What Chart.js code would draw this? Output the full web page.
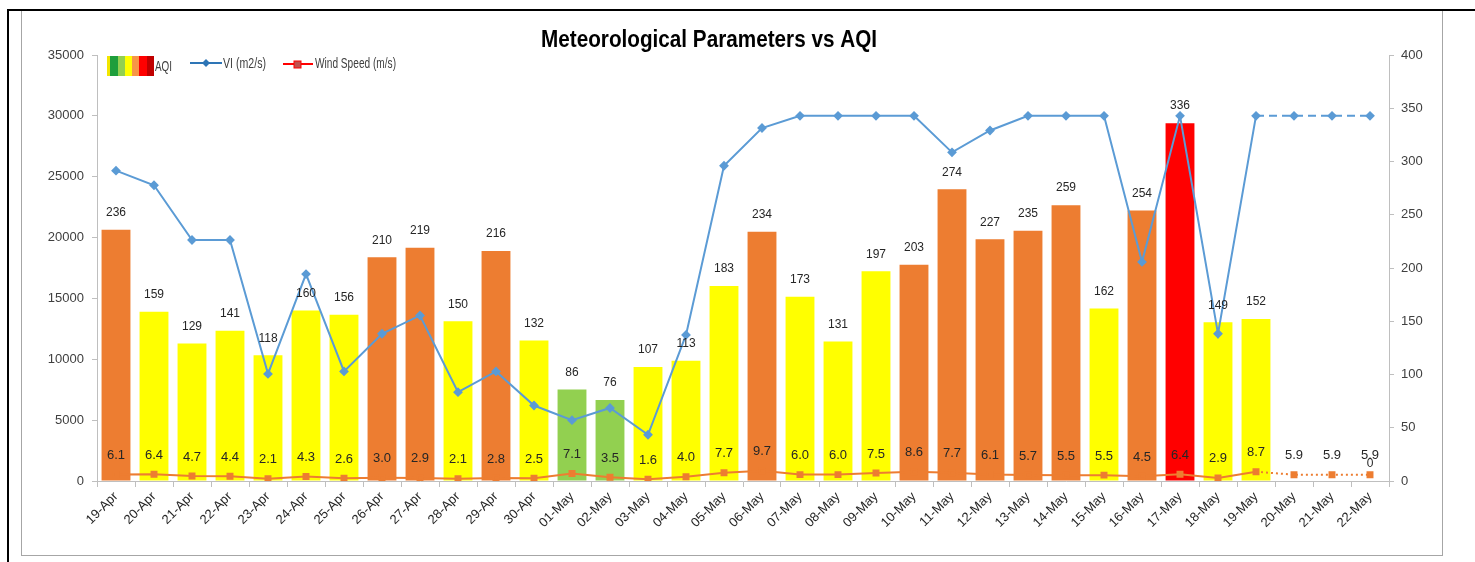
<!DOCTYPE html>
<html>
<head>
<meta charset="utf-8">
<script src="https://cdn.jsdelivr.net/npm/chart.js@4.4.0/dist/chart.umd.min.js"></script>
<style>
body{margin:0;background:#fff;width:1475px;height:562px;overflow:hidden;position:relative;}
#lineTop{position:absolute;left:7px;top:9px;width:1468px;height:2px;background:#000;}
#lineLeft{position:absolute;left:7px;top:9px;width:2px;height:553px;background:#000;}
#box{position:absolute;left:21px;top:10px;width:1420px;height:544px;border:1px solid #a6a6a6;}
</style>
</head>
<body>
<div id="box"><canvas id="myChart"></canvas></div>
<div id="lineTop"></div>
<div id="lineLeft"></div>
<script>
var labels = ['19-Apr','20-Apr','21-Apr','22-Apr','23-Apr','24-Apr','25-Apr','26-Apr','27-Apr','28-Apr','29-Apr','30-Apr',
    '01-May','02-May','03-May','04-May','05-May','06-May','07-May','08-May','09-May','10-May',
    '11-May','12-May','13-May','14-May','15-May','16-May','17-May','18-May','19-May','20-May','21-May','22-May'];
var aqi = [236,159,129,141,118,160,156,210,219,150,216,132,
    86,76,107,113,183,234,173,131,197,203,
    274,227,235,259,162,254,336,149,152,null,null,0];
var vi = [25500,24300,19800,19800,8800,17000,9000,12100,13600,7300,9000,6200,
    5000,6000,3800,12000,25900,29000,30000,30000,30000,30000,
    27000,28800,30000,30000,30000,18000,30000,12100,30000,30000,30000,30000];
var windSpeed = [6.1,6.4,4.7,4.4,2.1,4.3,2.6,3.0,2.9,2.1,2.8,2.5,
    7.1,3.5,1.6,4.0,7.7,9.7,6.0,6.0,7.5,8.6,
    7.7,6.1,5.7,5.5,5.5,4.5,6.4,2.9,8.7,5.9,5.9,5.9];
var viTicks = [0,5000,10000,15000,20000,25000,30000,35000];
var aqiTicks = [0,50,100,150,200,250,300,350,400];
var forecastFrom = 30; // 19-May onwards is dashed

var FONT = "'Liberation Sans', Arial, sans-serif";

function aqiColor(v) {
    if (v > 300) return '#FF0000';
    if (v > 200) return '#ED7D31';
    if (v > 100) return '#FFFF00';
    return '#92D050';
}

// draw text squeezed to a given width (Excel used Calibri)
function fillFit(ctx, text, x, y, width, align) {
    var w = ctx.measureText(text).width;
    var s = Math.min(1, width / w);
    ctx.save();
    ctx.translate(x, y);
    ctx.scale(s, 1);
    ctx.textAlign = align || 'left';
    ctx.fillText(text, 0, 0);
    ctx.restore();
}

var extras = {
    id: 'extras',
    afterDatasetsDraw: function(chart) {
        var ctx = chart.ctx;
        ctx.save();
        ctx.textBaseline = 'middle';
        ctx.textAlign = 'center';

        // AQI labels above bars
        ctx.font = '12px ' + FONT;
        ctx.fillStyle = '#262626';
        chart.getDatasetMeta(0).data.forEach(function(bar, i) {
            if (aqi[i] === null) return;
            ctx.fillText(String(aqi[i]), bar.x, bar.y - 17);
        });

        // wind speed labels
        ctx.font = '13px ' + FONT;
        ctx.fillStyle = '#262626';
        chart.getDatasetMeta(2).data.forEach(function(pt, i) {
            ctx.fillText(windSpeed[i].toFixed(1), pt.x, pt.y - 19);
        });
        ctx.restore();
    },
    afterDraw: function(chart) {
        var ctx = chart.ctx;
        ctx.save();
        // title
        ctx.fillStyle = '#000';
        ctx.font = 'bold 24px ' + FONT;
        ctx.textBaseline = 'alphabetic';
        fillFit(ctx, 'Meteorological Parameters vs AQI', 687, 36, 336, 'center');

        // legend
        var sw = ['#F2E600','#1E9E3C','#92D050','#FFFF00','#F79646','#FF0000','#C00000'];
        var widths = [3,8,7,7,7,8,7];
        var x = 85;
        for (var i = 0; i < sw.length; i++) {
            ctx.fillStyle = sw[i];
            ctx.fillRect(x, 45, widths[i], 20);
            x += widths[i];
        }
        ctx.font = '14px ' + FONT;
        ctx.fillStyle = '#404040';
        ctx.textBaseline = 'middle';
        fillFit(ctx, 'AQI', 133, 56, 17);

        ctx.strokeStyle = '#2E75B6';
        ctx.lineWidth = 2;
        ctx.beginPath(); ctx.moveTo(168, 52); ctx.lineTo(200, 52); ctx.stroke();
        ctx.fillStyle = '#2E75B6';
        ctx.beginPath(); ctx.moveTo(184, 48); ctx.lineTo(188, 52); ctx.lineTo(184, 56); ctx.lineTo(180, 52); ctx.closePath(); ctx.fill();
        ctx.fillStyle = '#404040';
        fillFit(ctx, 'VI (m2/s)', 201, 53, 43);

        ctx.strokeStyle = '#FF0000';
        ctx.beginPath(); ctx.moveTo(261, 53); ctx.lineTo(291, 53); ctx.stroke();
        ctx.fillStyle = '#C0504D';
        ctx.fillRect(272, 50, 7, 7);
        ctx.strokeStyle = '#FF0000';
        ctx.lineWidth = 1;
        ctx.strokeRect(272, 50, 7, 7);
        ctx.fillStyle = '#404040';
        fillFit(ctx, 'Wind Speed (m/s)', 293, 53, 81);
        ctx.restore();
    }
};

var ctx = document.getElementById('myChart').getContext('2d');
var myChart = new Chart(ctx, {
    type: 'bar',
    data: {
        labels: labels,
        datasets: [{
            label: 'AQI',
            data: aqi,
            yAxisID: 'y1',
            order: 3,
            backgroundColor: aqi.map(aqiColor),
            borderWidth: 0,
            barPercentage: 0.76,
            categoryPercentage: 1
        }, {
            type: 'line',
            label: 'VI (m2/s)',
            data: vi,
            yAxisID: 'y',
            order: 1,
            borderColor: '#5B9BD5',
            backgroundColor: '#5B9BD5',
            borderWidth: 2,
            pointStyle: 'rectRot',
            pointRadius: 3.5,
            tension: 0,
            segment: {
                borderDash: function(c) { return c.p0DataIndex >= forecastFrom ? [8, 5] : undefined; }
            }
        }, {
            type: 'line',
            label: 'Wind Speed (m/s)',
            data: windSpeed,
            yAxisID: 'y1',
            order: 2,
            borderColor: '#ED7D31',
            backgroundColor: '#ED7D31',
            borderWidth: 2,
            pointStyle: 'rect',
            pointRadius: 3.5,
            tension: 0,
            segment: {
                borderDash: function(c) { return c.p0DataIndex >= forecastFrom ? [2, 3] : undefined; }
            }
        }]
    },
    options: {
        responsive: true,
        maintainAspectRatio: false,
        animation: false,
        layout: { padding: { top: 44, left: 0, right: 0, bottom: 0 } },
        plugins: {
            legend: { display: false },
            title: { display: false },
            tooltip: { enabled: false }
        },
        scales: {
            x: {
                offset: true,
                grid: { display: true, drawOnChartArea: false, offset: true, tickLength: 6, color: '#bfbfbf' },
                border: { color: '#bfbfbf' },
                ticks: { autoSkip: false, minRotation: 45, maxRotation: 45, color: '#262626', font: { family: FONT, size: 13 }, padding: 2 },
                afterFit: function(s) { s.height = 74; }
            },
            y: {
                position: 'left',
                min: 0,
                max: 35000,
                afterBuildTicks: function(s) { s.ticks = viTicks.map(function(v) { return { value: v }; }); },
                grid: { drawOnChartArea: false, tickLength: 5, color: '#bfbfbf' },
                border: { color: '#bfbfbf' },
                ticks: { color: '#404040', font: { family: FONT, size: 13 }, padding: 8,
                    callback: function(v) { return String(v); } },
                afterFit: function(s) { s.width = 75; }
            },
            y1: {
                position: 'right',
                min: 0,
                max: 400,
                afterBuildTicks: function(s) { s.ticks = aqiTicks.map(function(v) { return { value: v }; }); },
                grid: { drawOnChartArea: false, tickLength: 5, color: '#bfbfbf' },
                border: { color: '#bfbfbf' },
                ticks: { color: '#404040', font: { family: FONT, size: 13 }, padding: 7,
                    callback: function(v) { return String(v); } },
                afterFit: function(s) { s.width = 53; }
            }
        }
    },
    plugins: [extras]
});
</script>
</body>
</html>
